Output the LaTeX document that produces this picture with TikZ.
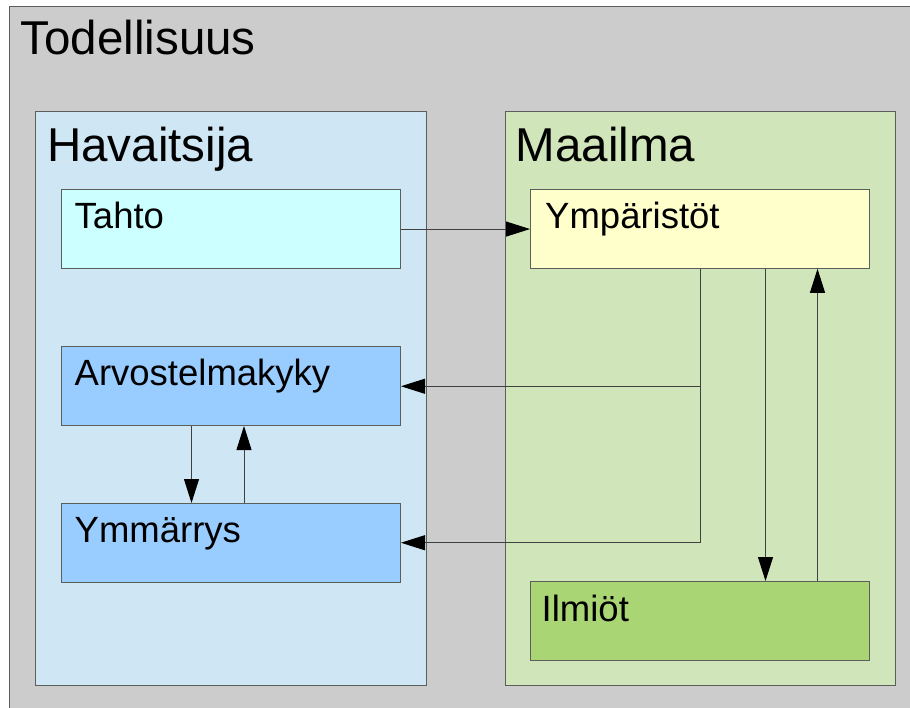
\documentclass[tikz,border=0pt]{standalone}
\usepackage{fontspec}
\setmainfont{Liberation Sans}
\usetikzlibrary{arrows.meta,calc}

\definecolor{realfill}{HTML}{CCCCCC}
\definecolor{obsfill}{HTML}{CFE6F4}
\definecolor{worldfill}{HTML}{D0E6BA}
\definecolor{willfill}{HTML}{CCFFFF}
\definecolor{mindfill}{HTML}{99CCFF}
\definecolor{envfill}{HTML}{FFFFCC}
\definecolor{phenfill}{HTML}{A9D574}
\definecolor{edge}{HTML}{5A5F5A}

\tikzset{
  frame/.style={draw=edge, line width=1pt, anchor=north west, inner sep=0pt},
  panel/.style={frame, minimum width=391pt, minimum height=573.5pt},
  itembox/.style={frame, minimum width=339pt, minimum height=78.5pt},
  title/.style={anchor=base west, inner sep=0pt, font=\fontsize{47.5}{56}\selectfont},
  itemtext/.style={anchor=base west, inner sep=0pt, font=\fontsize{36.5}{44}\selectfont},
  link/.style={draw=black!75, line width=1pt,
    -{Triangle[length=24pt,width=15pt,color=black]}},
}

\begin{document}
\begin{tikzpicture}[x=1pt,y=-1pt]
\useasboundingbox (0,0) rectangle (910,708);

% surrounding reality frame, its right and lower edges lie off the page
\node[frame, fill=realfill, minimum width=960pt, minimum height=760pt] (reality) at (9,6.5) {};
\node[title] (realitylabel) at (20.5,55) {Todellisuus};

% observer and world panels
\node[panel, fill=obsfill] (observer) at (35,111.5) {};
\node[panel, fill=worldfill, minimum width=390.5pt] (world) at (504.5,111.5) {};
\node[title] (observerlabel) at (47,161.7) {Havaitsija};
\node[title] (worldlabel) at (515.5,161.7) {Maailma};

% observer items
\node[itembox, fill=willfill] (will) at (61,189.3) {};
\node[itembox, fill=mindfill] (judgement) at (61,346.5) {};
\node[itembox, fill=mindfill] (understanding) at (61,503) {};
\node[itemtext] (willlabel) at ($(will.north west)+(13.5,39.7)$) {Tahto};
\node[itemtext] (judgementlabel) at ($(judgement.north west)+(13.5,38.7)$) {Arvostelmakyky};
\node[itemtext] (understandinglabel) at ($(understanding.north west)+(13.5,39.7)$) {Ymmärrys};

% world items
\node[itembox, fill=envfill] (env) at (530,189.3) {};
\node[itembox, fill=phenfill] (phen) at (530,581) {};
\node[itemtext] (envlabel) at ($(env.north west)+(15,39.7)$) {Ympäristöt};
\node[itemtext] (phenlabel) at ($(phen.north west)+(11.5,40)$) {Ilmiöt};

% connectors
\draw[link] (will.east) -- (env.west);
\draw[link] (env.south) |- (judgement.east);
\draw[link] (env.south) |- (understanding.east);

\coordinate (envdown) at ($(env.south)+(65.5,0)$);
\coordinate (envup) at ($(env.south)+(117.5,0)$);
\draw[link] (envdown) -- (envdown |- phen.north);
\draw[link] (envup |- phen.north) -- (envup);

\coordinate (judgedown) at ($(judgement.south)+(-39.5,0)$);
\coordinate (judgeup) at ($(judgement.south)+(13,0)$);
\draw[link] (judgedown) -- (judgedown |- understanding.north);
\draw[link] (judgeup |- understanding.north) -- (judgeup);
\end{tikzpicture}
\end{document}
